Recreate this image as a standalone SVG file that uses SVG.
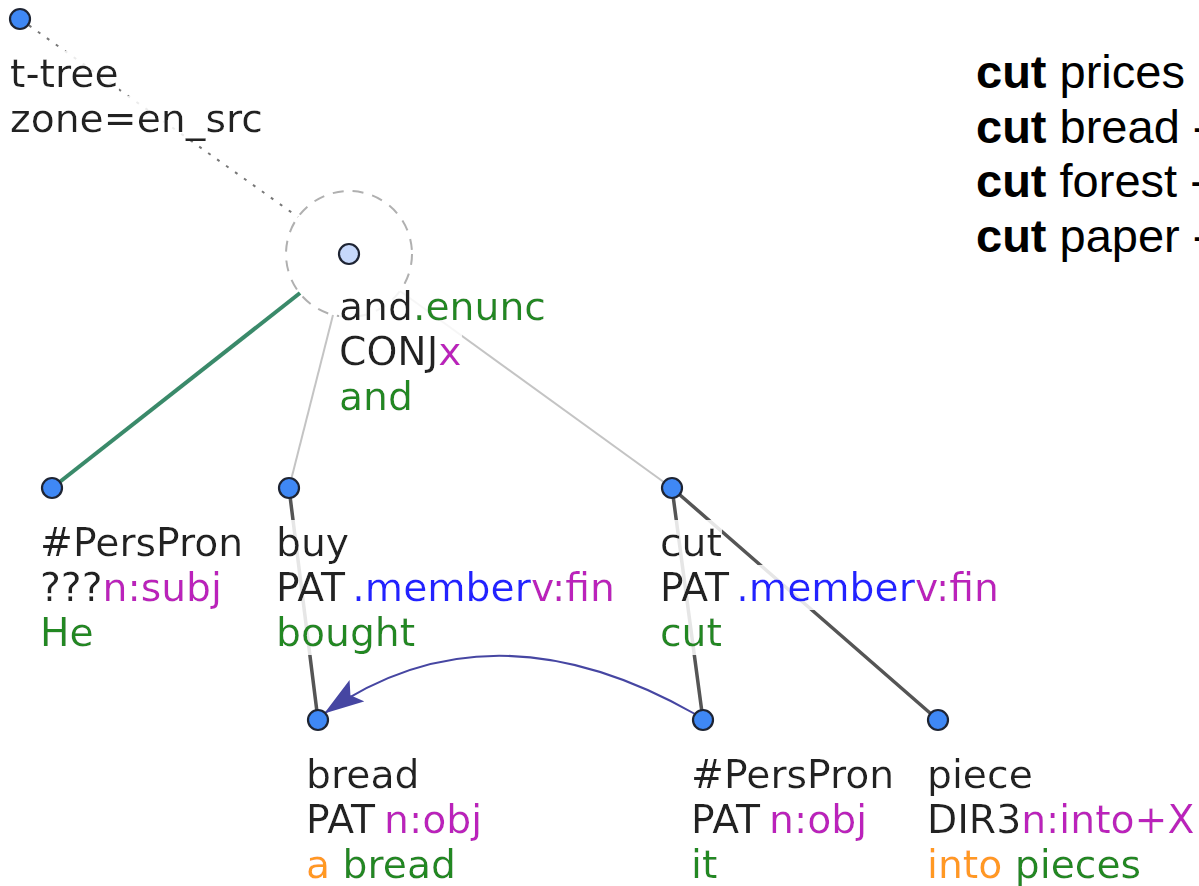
<svg xmlns="http://www.w3.org/2000/svg" width="1199" height="886" viewBox="0 0 1199 886">
  <defs>
    <style>
      .lbl { font-family: "DejaVu Sans", Verdana, sans-serif; font-size: 39.3px; fill: #222; }
      .g { fill: #228822; }
      .m { fill: #bb22bb; }
      .b { fill: #2424ff; }
      .o { fill: #ff9922; }
      .node { fill: #3f88f5; stroke: #1e2433; stroke-width: 2.2; }
      .root-node { fill: #c6d8fb; stroke: #1e2433; stroke-width: 2.2; }
      .thin { stroke: #c4c4c4; stroke-width: 2; fill: none; }
      .dep { stroke: #555; stroke-width: 3.5; fill: none; stroke-linecap: round; }
      .side { font-family: "Liberation Sans", Arial, sans-serif; font-size: 47px; fill: #000; }
    </style>
    <!-- translucent white box behind every label line -->
    <filter id="halo" x="0" y="0" width="1" height="1">
      <feFlood flood-color="#ffffff" flood-opacity="0.85"/>
      <feComposite in="SourceGraphic"/>
    </filter>
    <marker id="coref-head" markerUnits="userSpaceOnUse" markerWidth="40" markerHeight="26" viewBox="0 0 40 26" refX="39" refY="13" orient="auto">
      <path d="M0,0 L40,13 L0,26 L8,13 z" fill="#4646a2"/>
    </marker>
  </defs>

  <rect width="1199" height="886" fill="#ffffff"/>

  <!-- connectors -->
  <g id="edges">
    <line x1="20" y1="19" x2="298" y2="217" stroke="#777" stroke-width="2" stroke-dasharray="3 8"/>
    <circle cx="349" cy="254" r="63" fill="none" stroke="#b0b0b0" stroke-width="2" stroke-dasharray="11 9"/>
    <line x1="300" y1="293" x2="52" y2="488" stroke="#3a8a6a" stroke-width="4"/>
    <line x1="333" y1="315" x2="289" y2="488" class="thin"/>
    <line x1="400" y1="291" x2="672" y2="488" class="thin"/>
    <line x1="289" y1="488" x2="318" y2="720" class="dep"/>
    <line x1="672" y1="488" x2="703" y2="720" class="dep"/>
    <line x1="672" y1="488" x2="938" y2="720" class="dep" stroke-width="4"/>
    <path d="M 695,714 Q 490,598 325,713" fill="none" stroke="#4646a2" stroke-width="2" marker-end="url(#coref-head)"/>
  </g>

  <!-- tree root -->
  <g id="tree-root">
    <circle cx="20" cy="19" r="10" class="node"/>
    <text class="lbl" x="10" y="87" filter="url(#halo)">t-tree</text>
    <text class="lbl" x="10" y="132" filter="url(#halo)">zone=en_src</text>
  </g>

  <g id="n-and">
    <circle cx="349" cy="254" r="10" class="root-node"/>
    <text class="lbl" x="339" y="320" filter="url(#halo)">and<tspan class="g">.enunc</tspan></text>
    <text class="lbl" x="339" y="365" filter="url(#halo)">CONJ<tspan class="m">x</tspan></text>
    <text class="lbl g" x="339" y="410" filter="url(#halo)">and</text>
  </g>

  <g id="n-he">
    <circle cx="52" cy="488" r="10" class="node"/>
    <text class="lbl" x="40" y="556" filter="url(#halo)">#PersPron</text>
    <text class="lbl" x="40" y="601" filter="url(#halo)">???<tspan class="m">n:subj</tspan></text>
    <text class="lbl g" x="40" y="646" filter="url(#halo)">He</text>
  </g>

  <g id="n-buy">
    <circle cx="289" cy="488" r="10" class="node"/>
    <text class="lbl" x="276" y="556" filter="url(#halo)">buy</text>
    <text class="lbl" x="276" y="601" filter="url(#halo)">PAT<tspan class="b" dx="12">.member</tspan><tspan class="m">v:fin</tspan></text>
    <text class="lbl g" x="276" y="646" filter="url(#halo)">bought</text>
  </g>

  <g id="n-cut">
    <circle cx="672" cy="488" r="10" class="node"/>
    <text class="lbl" x="660" y="556" filter="url(#halo)">cut</text>
    <text class="lbl" x="660" y="601" filter="url(#halo)">PAT<tspan class="b" dx="12">.member</tspan><tspan class="m">v:fin</tspan></text>
    <text class="lbl g" x="660" y="646" filter="url(#halo)">cut</text>
  </g>

  <g id="n-bread">
    <circle cx="318" cy="720" r="10" class="node"/>
    <text class="lbl" x="306" y="788" filter="url(#halo)">bread</text>
    <text class="lbl" x="306" y="833" filter="url(#halo)">PAT<tspan class="m" dx="9">n:obj</tspan></text>
    <text class="lbl" x="306" y="878" filter="url(#halo)"><tspan class="o">a</tspan> <tspan class="g">bread</tspan></text>
  </g>

  <g id="n-it">
    <circle cx="703" cy="720" r="10" class="node"/>
    <text class="lbl" x="691" y="788" filter="url(#halo)">#PersPron</text>
    <text class="lbl" x="691" y="833" filter="url(#halo)">PAT<tspan class="m" dx="9">n:obj</tspan></text>
    <text class="lbl g" x="691" y="878" filter="url(#halo)">it</text>
  </g>

  <g id="n-piece">
    <circle cx="938" cy="720" r="10" class="node"/>
    <text class="lbl" x="927" y="788" filter="url(#halo)">piece</text>
    <text class="lbl" x="927" y="833" filter="url(#halo)">DIR3<tspan class="m">n:into+X</tspan></text>
    <text class="lbl" x="927" y="878" filter="url(#halo)"><tspan class="o">into</tspan> <tspan class="g">pieces</tspan></text>
  </g>

  <!-- collocation list -->
  <g id="cut-examples">
    <text class="side" x="976" y="88"><tspan font-weight="bold">cut</tspan> prices</text>
    <text class="side" x="976" y="143"><tspan font-weight="bold">cut</tspan> bread -</text>
    <text class="side" x="976" y="197"><tspan font-weight="bold">cut</tspan> forest -</text>
    <text class="side" x="976" y="252"><tspan font-weight="bold">cut</tspan> paper -</text>
  </g>
</svg>
